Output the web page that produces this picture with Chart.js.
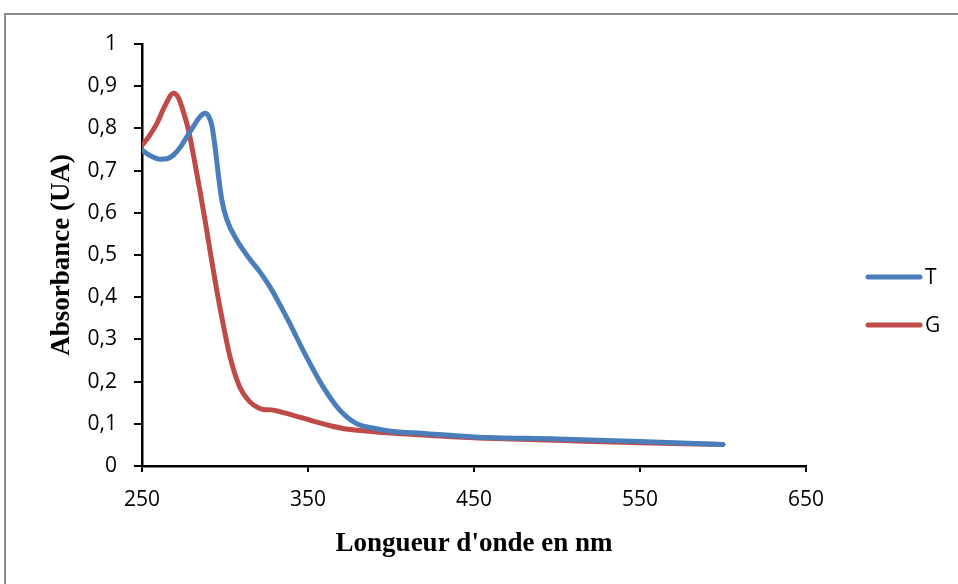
<!DOCTYPE html>
<html>
<head>
<meta charset="utf-8">
<script src="https://cdn.jsdelivr.net/npm/chart.js@4"></script>
<style>
  html, body { margin: 0; padding: 0; background: #fff; }
  #cadre { position: absolute; left: 4px; top: 13px; width: 1000px; height: 1000px;
           border-left: 2px solid #8c8c8c; border-top: 2px solid #8c8c8c; }
  #zone { position: absolute; left: 0; top: 0; width: 958px; height: 584px; }
</style>
</head>
<body>
<div id="cadre"></div>
<div id="zone"><canvas id="grafico" width="958" height="584"></canvas></div>
<script>
// courbes
const nomsSeries = ["T", "G"];
const coresSeries = ["#4a7ebb", "#be4b48"];

const ondeT = [250, 255, 261, 265, 269, 273, 277, 281, 285, 288, 290, 292, 294, 296, 298, 301, 307, 315, 321, 327, 333, 339, 349, 359, 369, 379, 389, 399, 420, 450, 500, 550, 600];
const absT  = [0.749, 0.735, 0.727, 0.728, 0.737, 0.755, 0.78, 0.805, 0.828, 0.836, 0.83, 0.808, 0.757, 0.69, 0.632, 0.585, 0.536, 0.49, 0.46, 0.425, 0.383, 0.338, 0.259, 0.188, 0.133, 0.101, 0.09, 0.083, 0.077, 0.069, 0.064, 0.058, 0.051];

const ondeG = [250, 254, 259, 264, 269, 272, 274, 278, 282, 285, 288, 291, 295, 299, 303, 309, 315, 320, 323, 328, 333, 341, 351, 361, 371, 385, 400, 450, 500, 550, 600];
const absG  = [0.76, 0.78, 0.812, 0.855, 0.883, 0.872, 0.851, 0.796, 0.715, 0.65, 0.582, 0.51, 0.417, 0.334, 0.259, 0.186, 0.152, 0.138, 0.134, 0.133, 0.129, 0.12, 0.109, 0.098, 0.089, 0.083, 0.078, 0.067, 0.061, 0.055, 0.051];

const xMin = 250, xMax = 650, xPas = 100;
const yMin = 0, yMax = 1, yPas = 0.1;

function juntaPontos(xs, ys) {
  return xs.map((x, i) => ({ x: x, y: ys[i] }));
}

function formataY(v) {
  if (Math.abs(v) < 1e-9) return "0";
  if (Math.abs(v - 1) < 1e-9) return "1";
  return v.toFixed(1).replace(".", ",");
}

// legende a droite, comme dans Excel
const legendaLinhas = {
  id: "legendaLinhas",
  afterDraw(chart) {
    const ctx = chart.ctx;
    const yT = 277, dy = 48;
    ctx.save();
    chart.data.datasets.forEach((ds, i) => {
      const y = yT + i * dy;
      ctx.strokeStyle = ds.borderColor;
      ctx.lineWidth = 5;
      ctx.lineCap = "round";
      ctx.beginPath();
      ctx.moveTo(868, y);
      ctx.lineTo(920, y);
      ctx.stroke();
      ctx.fillStyle = "#000";
      ctx.font = "21px 'Open Sans'";
      ctx.textBaseline = "middle";
      ctx.textAlign = "left";
      ctx.fillText(ds.label, 925, y + 1);
    });
    ctx.restore();
  }
};

function serie(i, xs, ys) {
  return {
    label: nomsSeries[i],
    data: juntaPontos(xs, ys),
    borderColor: coresSeries[i],
    borderWidth: 5,
    pointRadius: 0,
    cubicInterpolationMode: "monotone",
    borderCapStyle: "round",
    borderJoinStyle: "round",
  };
}

const grafico = new Chart(document.getElementById("grafico"), {
  type: "line",
  data: {
    datasets: [serie(0, ondeT, absT), serie(1, ondeG, absG)],
  },
  options: {
    responsive: false,
    animation: false,
    layout: { padding: { top: 44, right: 152, bottom: 0, left: 0 } },
    plugins: { legend: { display: false }, tooltip: { enabled: false } },
    scales: {
      x: {
        type: "linear",
        min: xMin,
        max: xMax,
        ticks: { stepSize: xPas, color: "#000", padding: 15, font: { family: "'Open Sans'", size: 21 } },
        grid: { drawOnChartArea: false, drawTicks: true, tickLength: 6, color: "#000", lineWidth: 2 },
        border: { color: "#000", width: 2.5 },
        title: {
          display: true,
          text: "Longueur d'onde en nm",
          color: "#000",
          font: { family: "'Liberation Serif'", size: 27, weight: "bold" },
          padding: { top: 0, bottom: 24 },
        },
        afterFit(s) { s.height = 118; },
      },
      y: {
        type: "linear",
        min: yMin,
        max: yMax,
        ticks: { stepSize: yPas, color: "#000", padding: 17, callback: formataY, font: { family: "'Open Sans'", size: 21 } },
        grid: { drawOnChartArea: false, drawTicks: true, tickLength: 8, color: "#000", lineWidth: 2 },
        border: { color: "#000", width: 2.5 },
        title: {
          display: true,
          text: "Absorbance (UA)",
          color: "#000",
          font: { family: "'Liberation Serif'", size: 27, weight: "bold" },
          padding: { top: 46, bottom: 0 },
        },
        afterFit(s) { s.width = 142; },
      },
    },
  },
  plugins: [legendaLinhas],
});
</script>
</body>
</html>
